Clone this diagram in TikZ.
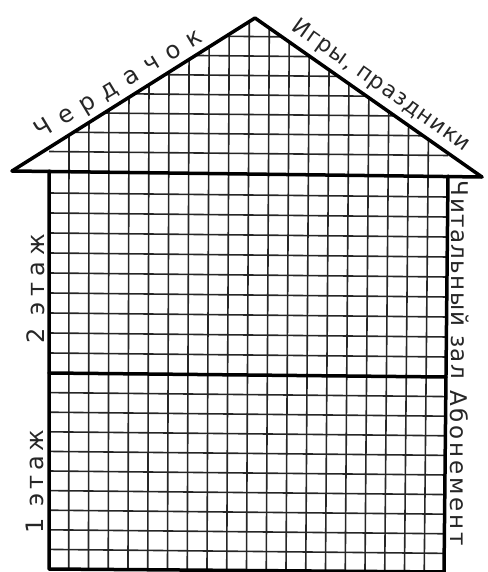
\documentclass[tikz,border=0pt]{standalone}
\usepackage{fontspec}
\newfontfamily\lblfont{DejaVu Sans}
\begin{document}
\begin{tikzpicture}[x=1pt,y=-1pt,
  frame/.style={line width=3.5pt, line cap=round, line join=round, black},
  gridline/.style={line width=1.6pt, black!85},
  lbl/.style={inner sep=0pt, text=black!85},
]
\useasboundingbox (0,0) rectangle (487,572);
\coordinate (apex) at (255,18);
\coordinate (eaveL) at (12,171);
\coordinate (eaveR) at (482,177);
\coordinate (wTL) at (49,171);
\coordinate (wTR) at (448,176);
\coordinate (wBL) at (49,569);
\coordinate (wBR) at (444,572);
\coordinate (mL) at (49,373);
\coordinate (mR) at (446,377);
\coordinate (rL) at (49,147.7);
\coordinate (rR) at (448,153.2);
\begin{scope}
  \clip (rL) -- (apex) -- (rR) -- (wTR) -- (wBR) -- (wBL) -- cycle;
  \foreach \k in {1,...,19} {
    \draw[gridline] ({49+20.04*\k},0) -- ({49+19.747*\k},575);
  }
  \foreach \y in {151.5,132,112.5,93,73.5,54,34.5,193,213,233,253,273,293,313,333,353,392.6,412.2,431.8,451.4,471,490.6,510.2,529.8,549.4} {
    \draw[gridline] (40,{\y-0.09}) -- (460,{\y+4.12});
  }
\end{scope}
\draw[frame] (eaveL) -- (apex) -- (eaveR);
\draw[frame] (eaveL) -- (eaveR);
\draw[frame] (wTL) -- (wBL) -- (wBR) -- (wTR);
\draw[frame] (mL) -- (mR);
\node[lbl, rotate=31, font={\lblfont\fontsize{24}{24}\selectfont\addfontfeature{LetterSpace=41}}] (attic) at (119,85) {Чердачок};
\node[lbl, rotate=-35.3, font={\lblfont\fontsize{22}{22}\selectfont\addfontfeature{LetterSpace=5}}] (games) at (381,86) {Игры, праздники};
\node[lbl, rotate=-90, font={\lblfont\fontsize{23}{23}\selectfont\addfontfeature{LetterSpace=6}}] (reading) at (460,280) {Читальный зал};
\node[lbl, rotate=-90, font={\lblfont\fontsize{23}{23}\selectfont\addfontfeature{LetterSpace=12}}] (subscr) at (459,468) {Абонемент};
\node[lbl, rotate=90, font={\lblfont\fontsize{24}{24}\selectfont\addfontfeature{LetterSpace=24}}] (floor2) at (36,289) {2 этаж};
\node[lbl, rotate=90, font={\lblfont\fontsize{24}{24}\selectfont\addfontfeature{LetterSpace=18}}] (floor1) at (35,482) {1 этаж};
\end{tikzpicture}
\end{document}
